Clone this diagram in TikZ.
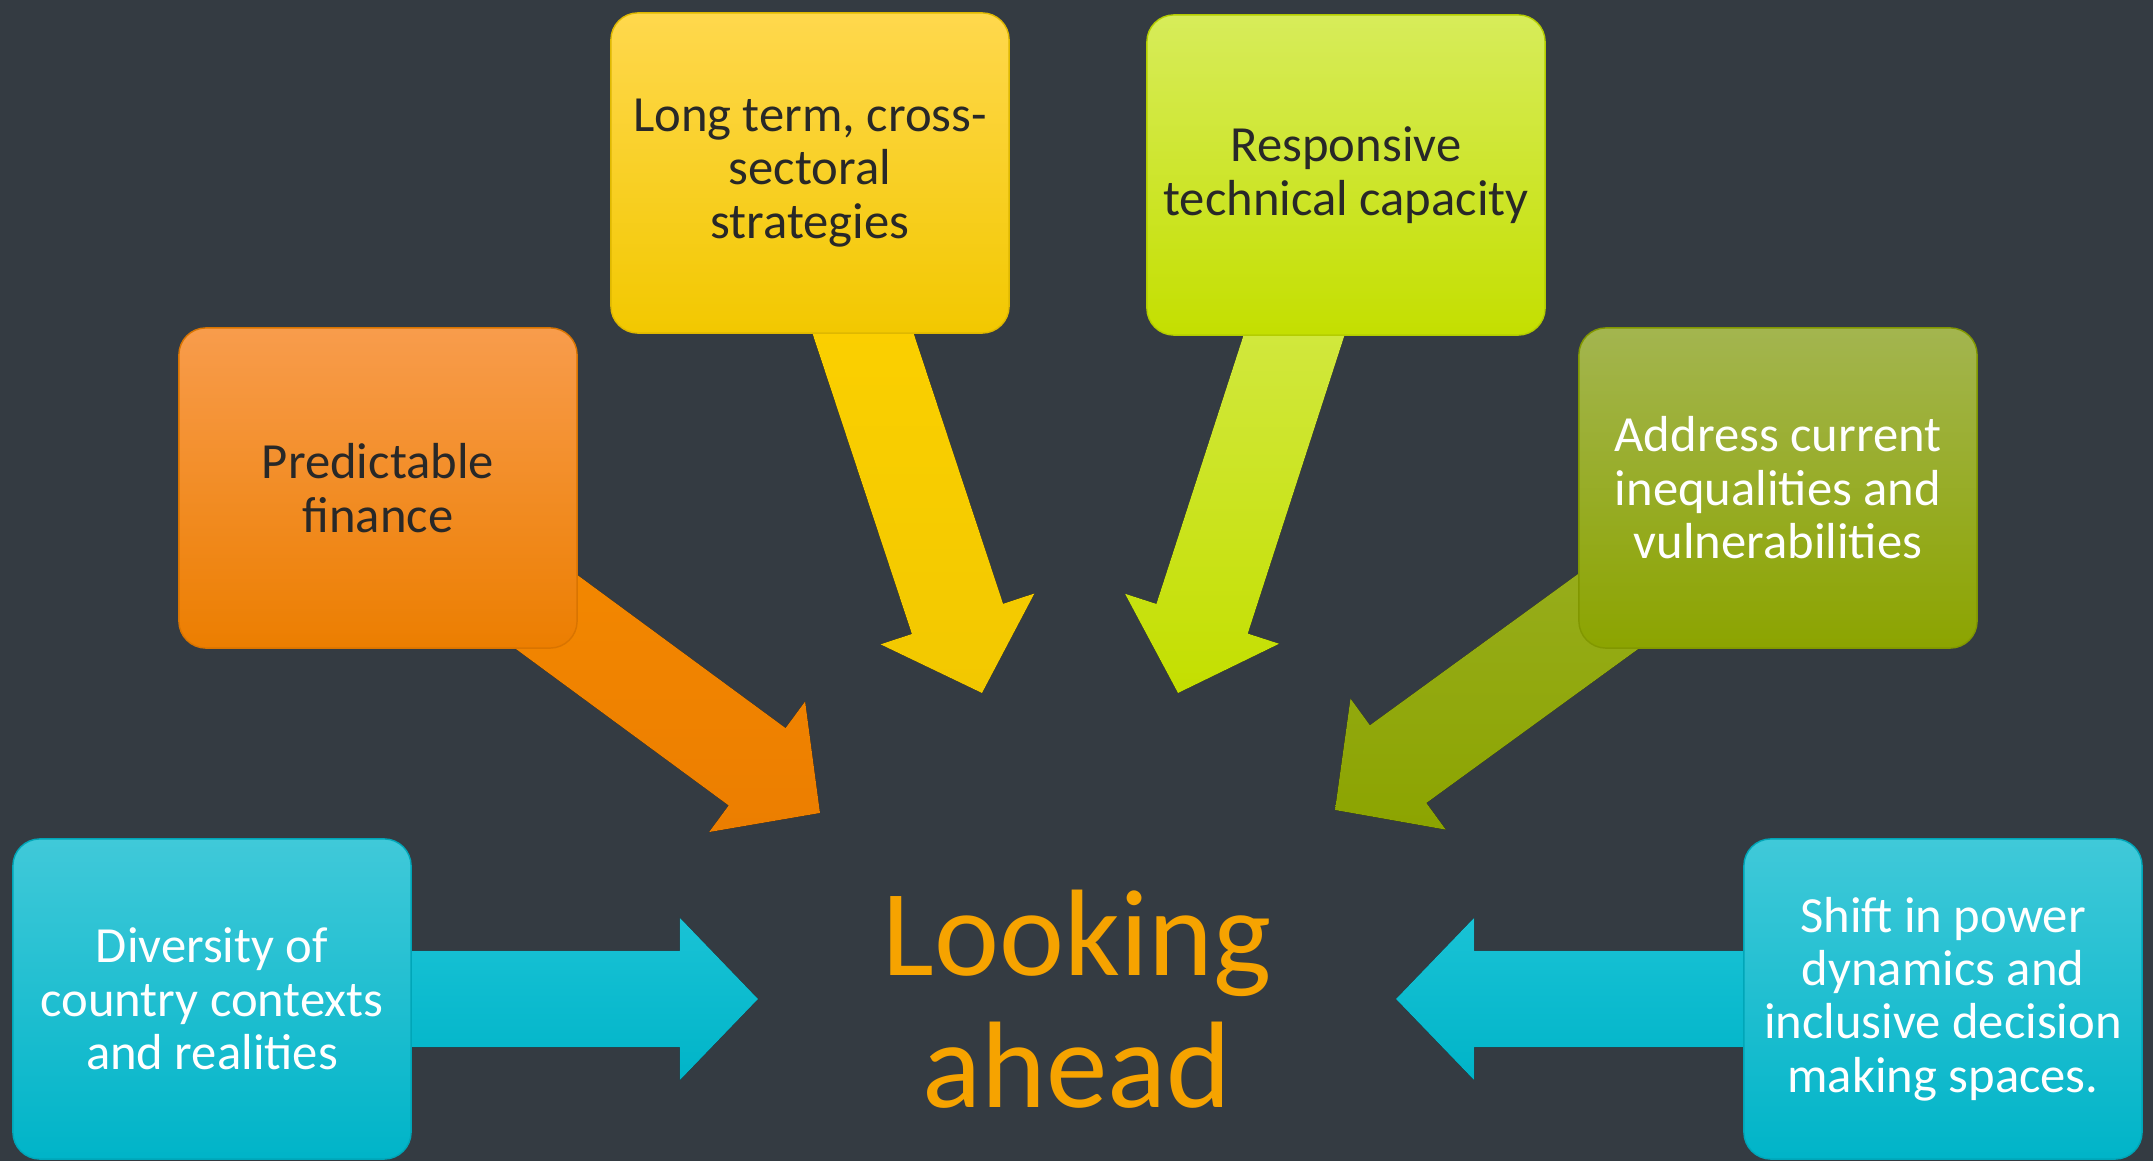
\documentclass[tikz,border=0pt]{standalone}
\usepackage{fontspec}
\setmainfont{Carlito}
\usetikzlibrary{calc,backgrounds}
\definecolor{bgc}{RGB}{52,59,66}
\definecolor{txtdark}{RGB}{40,40,40}
\definecolor{titlec}{RGB}{246,163,0}
\definecolor{cyanT}{RGB}{64,201,217}
\definecolor{cyanM}{RGB}{0,190,211}
\definecolor{cyanB}{RGB}{0,180,200}
\definecolor{oraT}{RGB}{248,156,76}
\definecolor{oraM}{RGB}{246,139,0}
\definecolor{oraB}{RGB}{236,126,0}
\definecolor{yelT}{RGB}{255,216,77}
\definecolor{yelM}{RGB}{255,211,0}
\definecolor{yelB}{RGB}{242,200,0}
\definecolor{limT}{RGB}{215,236,90}
\definecolor{limM}{RGB}{204,232,0}
\definecolor{limB}{RGB}{196,223,0}
\definecolor{oliT}{RGB}{163,181,79}
\definecolor{oliM}{RGB}{148,172,0}
\definecolor{oliB}{RGB}{140,164,0}
\def\hlen{0.78cm}
\def\swid{0.48cm}
\def\hwid{0.81cm}
\newcommand\blockarr[4]{%
  \coordinate (#3H) at ($(#2)!\hlen!(#1.center)$);
  \fill[#4] ($(#1.center)!\swid!90:(#2)$) -- ($(#3H)!\swid!90:(#2)$) -- ($(#3H)!\hwid!90:(#2)$) -- (#2)
    -- ($(#3H)!\hwid!-90:(#2)$) -- ($(#3H)!\swid!-90:(#2)$) -- ($(#1.center)!\swid!-90:(#2)$) -- cycle;
}
\tikzset{
  box/.style={rounded corners=0.27cm, minimum width=3.98cm, minimum height=3.2cm,
    align=center, inner sep=0pt, line width=0.4pt,
    font=\fontsize{14.4}{15.2}\selectfont},
  cyanbox/.style={box, top color=cyanT, middle color=cyanM, bottom color=cyanB, draw=cyanB!92!black, text=white},
  orabox/.style={box, top color=oraT, middle color=oraM, bottom color=oraB, draw=oraB!92!black, text=txtdark},
  yelbox/.style={box, top color=yelT, middle color=yelM, bottom color=yelB, draw=yelB!92!black, text=txtdark},
  limbox/.style={box, top color=limT, middle color=limM, bottom color=limB, draw=limB!92!black, text=txtdark},
  olibox/.style={box, top color=oliT, middle color=oliM, bottom color=oliB, draw=oliB!92!black, text=white},
  cyanarr/.style={top color=cyanT!40!cyanM, bottom color=cyanB},
  oraarr/.style={top color=oraM, bottom color=oraB},
  yelarr/.style={top color=yelM, bottom color=yelB},
  limarr/.style={top color=limT, bottom color=limB},
  oliarr/.style={top color=oliT!50!oliM, bottom color=oliB},
  titlestyle/.style={text=titlec, align=center, font=\fontsize{35}{37.5}\selectfont, inner sep=0pt}
}
\begin{document}
\begin{tikzpicture}[x=0.01cm,y=-0.01cm]
\useasboundingbox (0,0) rectangle (2153,1161);
\node[cyanbox] (div) at (212,999) {Diversity of\\country contexts\\and realities};
\node[orabox] (fin) at (378,488) {Predictable\\finance};
\node[yelbox] (lts) at (810,173) {Long term, cross-\\sectoral\\strategies};
\node[limbox] (rtc) at (1346,175) {Responsive\\technical capacity};
\node[olibox] (aci) at (1778,488) {Address current\\inequalities and\\vulnerabilities};
\node[cyanbox] (shp) at (1943,999) {Shift in power\\dynamics and\\inclusive decision\\making spaces.};
\node[titlestyle, anchor=base] (title) at (1077,1107) {Looking\\ahead};
\coordinate (tdiv) at (758,999);
\coordinate (tfin) at (820,813);
\coordinate (tlts) at (982,693);
\coordinate (trtc) at (1178,693);
\coordinate (taci) at (1335,810);
\coordinate (tshp) at (1396,999);
\begin{pgfonlayer}{background}
\fill[bgc] (0,0) rectangle (2153,1161);
\blockarr{div}{tdiv}{a1}{cyanarr}
\blockarr{fin}{tfin}{a2}{oraarr}
\blockarr{lts}{tlts}{a3}{yelarr}
\blockarr{rtc}{trtc}{a4}{limarr}
\blockarr{aci}{taci}{a5}{oliarr}
\blockarr{shp}{tshp}{a6}{cyanarr}
\end{pgfonlayer}
\end{tikzpicture}
\end{document}
